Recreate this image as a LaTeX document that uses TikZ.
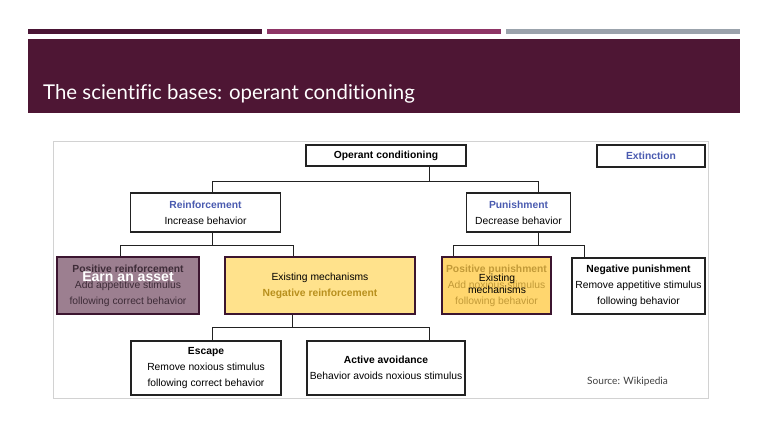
\documentclass[tikz,border=0pt]{standalone}
\usepackage{fontspec}
\setmainfont{Liberation Sans}
\newfontfamily\slidefont[Ligatures=NoCommon]{Lato}
\usetikzlibrary{positioning,calc}
\definecolor{plum}{HTML}{4E1634}
\definecolor{barone}{HTML}{4A1535}
\definecolor{bartwo}{HTML}{8E3566}
\definecolor{barthree}{HTML}{9BA3AC}
\definecolor{framegray}{HTML}{D2D2D2}
\definecolor{headblue}{HTML}{4A5BB0}
\definecolor{mauve}{HTML}{9C7F90}
\definecolor{mauveline}{HTML}{3C1530}
\definecolor{mauvetext}{HTML}{3E2C38}
\definecolor{butter}{HTML}{FFE28C}
\definecolor{gold}{HTML}{FFD66E}
\definecolor{goldtext}{HTML}{C29A38}
\definecolor{ochre}{HTML}{B8901E}
\definecolor{ink}{HTML}{222222}
\definecolor{sourcegray}{HTML}{404040}

\begin{document}
\begin{tikzpicture}[x=0.03cm,y=-0.03cm,
    chart/.style={font=\fontsize{8.8}{13.6}\selectfont,align=center,inner sep=0pt},
    box/.style={chart,draw=ink,line width=1.1pt,fill=white},
    hot/.style={chart,draw=mauveline,line width=1.6pt},
    wire/.style={ink,line width=0.6pt}]
  \useasboundingbox (0,0) rectangle (768,432);

  % Slide header
  \fill[barone] (28,29) rectangle (262,34);
  \fill[bartwo] (267,29) rectangle (501,34);
  \fill[barthree] (506,29) rectangle (740,34);
  \fill[plum] (28,39) rectangle (740,113);
  \node[font=\slidefont\fontsize{17.4}{21}\selectfont,white,anchor=base west,inner sep=0pt] (title) at (43,100) {The scientific bases: operant conditioning};

  % Figure frame
  \draw[framegray,fill=white,line width=0.8pt] (53,141) rectangle (708,398);

  % Top row
  \node[box,minimum width=160*0.03cm,minimum height=21*0.03cm] (oc) at (386,155.5) {\textbf{Operant conditioning}};
  \node[box,minimum width=108*0.03cm,minimum height=22*0.03cm,text=headblue] (ext) at (651,156) {\textbf{Extinction}};

  % Second row
  \node[box,minimum width=150*0.03cm,minimum height=39*0.03cm] (reinf) at (205.5,212.5) {\textcolor{headblue}{\textbf{Reinforcement}}\\Increase behavior};
  \node[box,minimum width=104*0.03cm,minimum height=39*0.03cm] (pun) at (518.5,212.5) {\textcolor{headblue}{\textbf{Punishment}}\\Decrease behavior};

  % Third row
  \node[hot,fill=mauve,text=mauvetext,minimum width=142*0.03cm,minimum height=57*0.03cm] (pr) at (128,285.5) {\textbf{Positive reinforcement}\\Add appetitive stimulus\\following correct behavior};
  \node[font=\bfseries\fontsize{12}{14}\selectfont,white,inner sep=0pt] (prnote) at (128,277) {Earn an asset};
  \node[hot,fill=butter,minimum width=190*0.03cm,minimum height=57*0.03cm] (ex) at (320,285.5) {Existing mechanisms\\\textcolor{ochre}{\textbf{Negative reinforcement}}};
  \node[hot,fill=gold,text=goldtext,minimum width=109*0.03cm,minimum height=57*0.03cm] (pp) at (496.5,285.5) {\textbf{Positive punishment}\\Add noxious stimulus\\following behavior};
  \node[chart,font=\fontsize{8.8}{10.5}\selectfont] (ppnote) at (497,284) {Existing\\mechanisms};
  \node[box,minimum width=133*0.03cm,minimum height=56*0.03cm] (np) at (638.5,286) {\textbf{Negative punishment}\\Remove appetitive stimulus\\following behavior};

  % Fourth row
  \node[box,minimum width=150*0.03cm,minimum height=54*0.03cm] (esc) at (206,368) {\textbf{Escape}\\Remove noxious stimulus\\following correct behavior};
  \node[box,minimum width=158*0.03cm,minimum height=54*0.03cm] (av) at (386,368) {\textbf{Active avoidance}\\Behavior avoids noxious stimulus};

  \node[font=\slidefont\fontsize{8.6}{10}\selectfont,sourcegray,anchor=base west,inner sep=0pt] (src) at (587,384) {Source: Wikipedia};

  % Connectors
  \coordinate (ocstem) at (429,181);
  \coordinate (fa) at (212,181);
  \coordinate (fb) at (538,181);
  \draw[wire] (oc.south -| ocstem) -- (ocstem);
  \draw[wire] (fa |- reinf.north) -- (fa) -- (fb) -- (fb |- pun.north);

  \coordinate (rstem) at (212,245);
  \coordinate (ra) at (120,245);
  \coordinate (rb) at (293,245);
  \draw[wire] (reinf.south -| rstem) -- (rstem);
  \draw[wire] (ra |- pr.north) -- (ra) -- (rb) -- (rb |- ex.north);

  \coordinate (pstem) at (538,245);
  \coordinate (pa) at (453,245);
  \coordinate (pb) at (584,245);
  \draw[wire] (pun.south -| pstem) -- (pstem);
  \draw[wire] (pa |- pp.north) -- (pa) -- (pb) -- (pb |- np.north);

  \coordinate (estem) at (292,327);
  \coordinate (ea) at (212,327);
  \coordinate (eb) at (429,327);
  \draw[wire] (ex.south -| estem) -- (estem);
  \draw[wire] (ea |- esc.north) -- (ea) -- (eb) -- (eb |- av.north);
\end{tikzpicture}
\end{document}
